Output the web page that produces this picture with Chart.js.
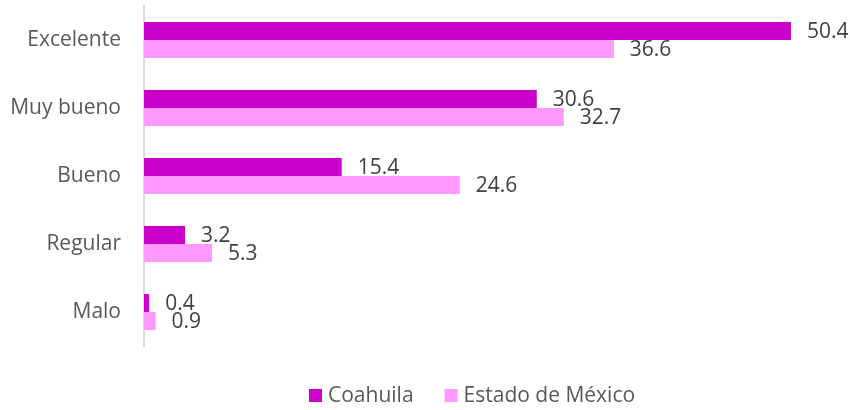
<!DOCTYPE html>
<html>
<head>
<meta charset="utf-8">
<script src="https://cdn.jsdelivr.net/npm/chart.js@4.4.1/dist/chart.umd.min.js"></script>
<style>
  html, body { margin: 0; padding: 0; background: #fff; }
  #wrap { width: 850px; height: 410px; }
</style>
</head>
<body>
<div id="wrap"><canvas id="chart"></canvas></div>
<script>
// datos
const categories = ['Excelente', 'Muy bueno', 'Bueno', 'Regular', 'Malo'];
const coahuila = [50.4, 30.6, 15.4, 3.2, 0.4];
const edomex = [36.6, 32.7, 24.6, 5.3, 0.9];
const seriesNames = ['Coahuila', 'Estado de México'];
const seriesColors = ['#CC00CC', '#FF99FF'];

const FONT = '"Open Sans", Lato, sans-serif';
const FSIZE = 21;

// etiquetas de valor al final de cada barra
const valueLabels = {
    id: 'valueLabels',
    afterDatasetsDraw(chart) {
        const ctx = chart.ctx;
        ctx.save();
        ctx.font = FSIZE + 'px ' + FONT;
        ctx.fillStyle = '#404040';
        ctx.textAlign = 'left';
        ctx.textBaseline = 'middle';
        chart.data.datasets.forEach((ds, i) => {
            chart.getDatasetMeta(i).data.forEach((bar, j) => {
                ctx.fillText(ds.data[j].toFixed(1), bar.x + 16, bar.y + 1);
            });
        });
        ctx.restore();
    }
};

// leyenda dibujada a mano abajo
const bottomLegend = {
    id: 'bottomLegend',
    afterDraw(chart) {
        const ctx = chart.ctx;
        ctx.save();
        ctx.font = FSIZE + 'px ' + FONT;
        ctx.textBaseline = 'middle';
        const y = 396;
        let x = 309;
        seriesNames.forEach((n, i) => {
            ctx.fillStyle = seriesColors[i];
            ctx.fillRect(x, y - 7, 13, 13);
            ctx.fillStyle = '#595959';
            ctx.fillText(n, x + 19, y);
            x += 19 + ctx.measureText(n).width + 31;
        });
        ctx.restore();
    }
};

new Chart(document.getElementById('chart').getContext('2d'), {
    type: 'bar',
    data: {
        labels: categories,
        datasets: [
            { label: seriesNames[0], data: coahuila, backgroundColor: seriesColors[0] },
            { label: seriesNames[1], data: edomex, backgroundColor: seriesColors[1] }
        ]
    },
    options: {
        indexAxis: 'y',
        responsive: true,
        maintainAspectRatio: false,
        animation: false,
        layout: { padding: { top: 6, bottom: 64, left: 0, right: 0 } },
        datasets: { bar: { barPercentage: 1, categoryPercentage: 0.53, borderWidth: 0 } },
        plugins: { legend: { display: false }, tooltip: { enabled: false } },
        scales: {
            x: { display: false, min: 0, max: 55 },
            y: {
                afterFit: s => { s.width = 144; s.paddingTop = 0; s.paddingBottom = 0; },
                grid: { display: false, drawTicks: false },
                border: { display: true, color: '#d9d9d9', width: 2 },
                ticks: { padding: 23, color: '#595959', font: { family: FONT, size: FSIZE } }
            }
        }
    },
    plugins: [valueLabels, bottomLegend]
});
</script>
</body>
</html>
